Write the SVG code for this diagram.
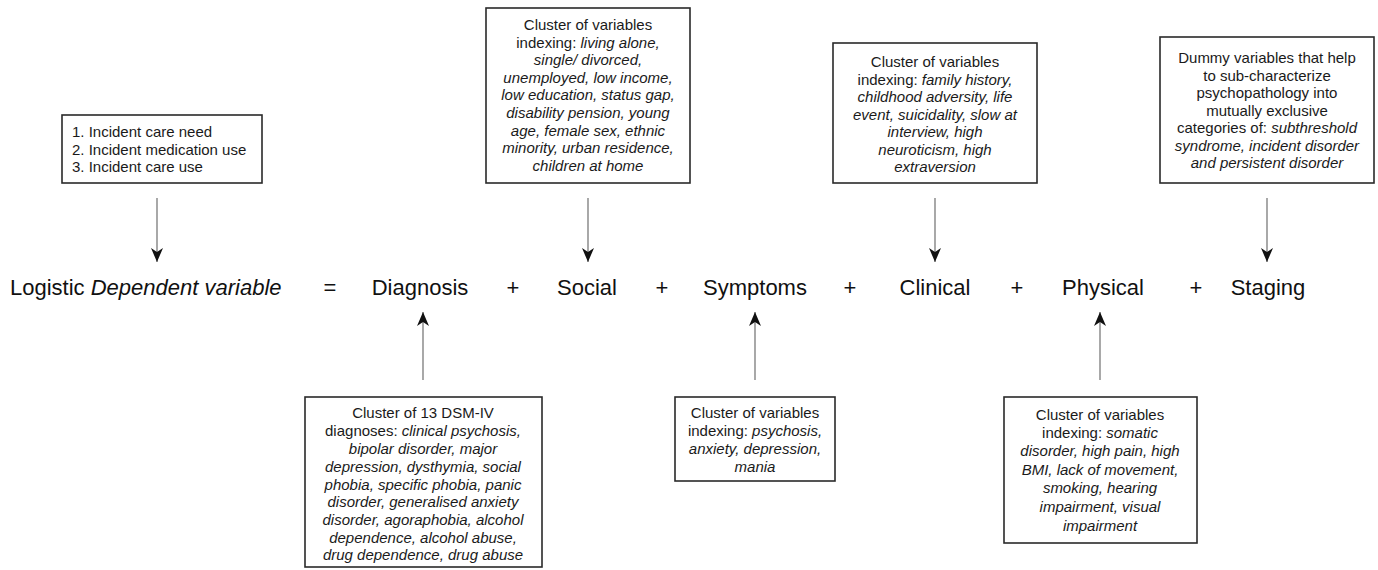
<svg xmlns="http://www.w3.org/2000/svg" width="1378" height="570" viewBox="0 0 1378 570">
<defs>
<marker id="ah" viewBox="0 0 14 12" refX="14" refY="6" markerWidth="14" markerHeight="12" markerUnits="userSpaceOnUse" orient="auto">
<path d="M0,0 L14,6 L0,12 L4,6 z" fill="#111"/>
</marker>
<style>
.box{fill:#fff;stroke:#2a2a2a;stroke-width:1.6}
.bt{font-family:"Liberation Sans",Arial,sans-serif;font-size:15px;fill:#1a1a1a;text-anchor:middle}
.bl{font-family:"Liberation Sans",Arial,sans-serif;font-size:15px;fill:#1a1a1a}
.main{font-family:"Liberation Sans",Arial,sans-serif;font-size:22px;fill:#111}
.mc{text-anchor:middle}
.i{font-style:italic}
.con{stroke:#7a7a7a;stroke-width:1.3;fill:none;marker-end:url(#ah)}
</style>
</defs>
<rect width="1378" height="570" fill="#fff"/>

<g id="connectors">
<line class="con" x1="157" y1="198" x2="157" y2="262"/>
<line class="con" x1="588" y1="198" x2="588" y2="262"/>
<line class="con" x1="935" y1="198" x2="935" y2="262"/>
<line class="con" x1="1267" y1="198" x2="1267" y2="262"/>
<line class="con" x1="423" y1="380" x2="423" y2="312"/>
<line class="con" x1="755" y1="380" x2="755" y2="312"/>
<line class="con" x1="1100" y1="380" x2="1100" y2="312"/>
</g>

<g id="equation">
<text class="main" x="10" y="295">Logistic <tspan class="i">Dependent variable</tspan></text>
<text class="main mc" x="330" y="295">=</text>
<text class="main mc" x="420" y="295">Diagnosis</text>
<text class="main mc" x="513" y="295">+</text>
<text class="main mc" x="587" y="295">Social</text>
<text class="main mc" x="662" y="295">+</text>
<text class="main mc" x="755" y="295">Symptoms</text>
<text class="main mc" x="850" y="295">+</text>
<text class="main mc" x="935" y="295">Clinical</text>
<text class="main mc" x="1017" y="295">+</text>
<text class="main mc" x="1103" y="295">Physical</text>
<text class="main mc" x="1196" y="295">+</text>
<text class="main mc" x="1268" y="295">Staging</text>
</g>

<g id="outcomes">
<rect class="box" x="62" y="115" width="200" height="68"/>
<text class="bl" x="72" y="137">1. Incident care need</text>
<text class="bl" x="72" y="155">2. Incident medication use</text>
<text class="bl" x="72" y="172">3. Incident care use</text>
</g>

<g id="social">
<rect class="box" x="486" y="8" width="204" height="175"/>
<text class="bt" x="588" y="30">Cluster of variables</text>
<text class="bt" x="588" y="47.6">indexing: <tspan class="i">living alone,</tspan></text>
<text class="bt i" x="588" y="65.2">single/ divorced,</text>
<text class="bt i" x="588" y="82.8">unemployed, low income,</text>
<text class="bt i" x="588" y="100.4">low education, status gap,</text>
<text class="bt i" x="588" y="118">disability pension, young</text>
<text class="bt i" x="588" y="135.6">age, female sex, ethnic</text>
<text class="bt i" x="588" y="153.2">minority, urban residence,</text>
<text class="bt i" x="588" y="170.8">children at home</text>
</g>

<g id="clinical">
<rect class="box" x="833" y="43" width="204" height="140"/>
<text class="bt" x="935" y="67">Cluster of variables</text>
<text class="bt" x="935" y="84.5">indexing: <tspan class="i">family history,</tspan></text>
<text class="bt i" x="935" y="102">childhood adversity, life</text>
<text class="bt i" x="935" y="119.5">event, suicidality, slow at</text>
<text class="bt i" x="935" y="137">interview, high</text>
<text class="bt i" x="935" y="154.5">neuroticism, high</text>
<text class="bt i" x="935" y="172">extraversion</text>
</g>

<g id="staging">
<rect class="box" x="1160" y="37" width="214" height="146"/>
<text class="bt" x="1267" y="63">Dummy variables that help</text>
<text class="bt" x="1267" y="80.5">to sub-characterize</text>
<text class="bt" x="1267" y="98">psychopathology into</text>
<text class="bt" x="1267" y="115.5">mutually exclusive</text>
<text class="bt" x="1267" y="133">categories of: <tspan class="i">subthreshold</tspan></text>
<text class="bt i" x="1267" y="150.5">syndrome, incident disorder</text>
<text class="bt i" x="1267" y="168">and persistent disorder</text>
</g>

<g id="diagnosis">
<rect class="box" x="305" y="397" width="237" height="170"/>
<text class="bt" x="423" y="418">Cluster of 13 DSM-IV</text>
<text class="bt" x="423" y="436">diagnoses: <tspan class="i">clinical psychosis,</tspan></text>
<text class="bt i" x="423" y="454">bipolar disorder, major</text>
<text class="bt i" x="423" y="472">depression, dysthymia, social</text>
<text class="bt i" x="423" y="490">phobia, specific phobia, panic</text>
<text class="bt i" x="423" y="507">disorder, generalised anxiety</text>
<text class="bt i" x="423" y="525">disorder, agoraphobia, alcohol</text>
<text class="bt i" x="423" y="543">dependence, alcohol abuse,</text>
<text class="bt i" x="423" y="560">drug dependence, drug abuse</text>
</g>

<g id="symptoms">
<rect class="box" x="675" y="397" width="160" height="84"/>
<text class="bt" x="755" y="418">Cluster of variables</text>
<text class="bt" x="755" y="436">indexing: <tspan class="i">psychosis,</tspan></text>
<text class="bt i" x="755" y="454">anxiety, depression,</text>
<text class="bt i" x="755" y="472">mania</text>
</g>

<g id="physical">
<rect class="box" x="1004" y="397" width="193" height="146"/>
<text class="bt" x="1100" y="420">Cluster of variables</text>
<text class="bt" x="1100" y="438">indexing: <tspan class="i">somatic</tspan></text>
<text class="bt i" x="1100" y="456">disorder, high pain, high</text>
<text class="bt i" x="1100" y="475">BMI, lack of movement,</text>
<text class="bt i" x="1100" y="493">smoking, hearing</text>
<text class="bt i" x="1100" y="512">impairment, visual</text>
<text class="bt i" x="1100" y="531">impairment</text>
</g>
</svg>
